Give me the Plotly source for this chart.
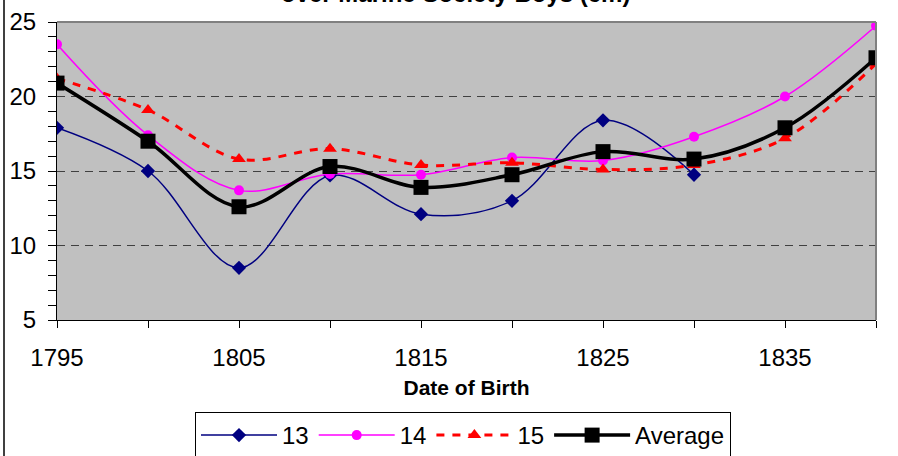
import plotly.graph_objects as go

years = [1795, 1800, 1805, 1810, 1815, 1820, 1825, 1830, 1835, 1840]
age13 = [17.9, 15.0, 8.5, 14.7, 12.1, 13.0, 18.4, 14.75]
age14 = [23.5, 17.4, 13.7, 14.8, 14.75, 15.9, 15.7, 17.3, 20.0, 24.75]
age15 = [21.2, 19.1, 15.8, 16.5, 15.4, 15.55, 15.1, 15.4, 17.2, 22.2]
average = [20.9, 17.0, 12.6, 15.3, 13.9, 14.75, 16.3, 15.8, 17.9, 22.6]

x_tickvals = [1795, 1800, 1805, 1810, 1815, 1820, 1825, 1830, 1835, 1840]
x_ticktext = ["1795", "", "1805", "", "1815", "", "1825", "", "1835", ""]
y_tickvals = [5, 10, 15, 20, 25]

FONT = "Arial, Liberation Sans, sans-serif"
W, H = 898, 456
L, R, T, B = 57, 22, 22, 136
PW, PH = W - L - R, H - T - B

fig = go.Figure()
fig.add_trace(go.Scatter(x=years[:len(age13)], y=age13, name="13", mode="lines+markers",
                         line=dict(color="#000080", width=1.5, shape="spline", smoothing=1),
                         marker=dict(symbol="diamond", size=11, color="#000080")))
fig.add_trace(go.Scatter(x=years, y=age14, name="14", mode="lines+markers",
                         line=dict(color="#FF00FF", width=1.5, shape="spline", smoothing=1),
                         marker=dict(symbol="circle", size=10, color="#FF00FF")))
fig.add_trace(go.Scatter(x=years, y=age15, name="15", mode="lines+markers",
                         line=dict(color="#FF0000", width=3, dash="8px,8px", shape="spline", smoothing=1),
                         marker=dict(symbol="triangle-up", size=12, color="#FF0000")))
fig.add_trace(go.Scatter(x=years, y=average, name="Average", mode="lines+markers",
                         line=dict(color="#000000", width=3.5, shape="spline", smoothing=1),
                         marker=dict(symbol="square", size=15, color="#000000")))

fig.update_layout(
    width=W, height=H,
    margin=dict(l=L, r=R, t=T, b=B, autoexpand=False),
    paper_bgcolor="white",
    plot_bgcolor="#C0C0C0",
    font=dict(family=FONT, color="black", size=24),
    showlegend=True,
    legend=dict(orientation="h", xref="container", yref="container",
                x=195 / W, y=1 - 412 / H, xanchor="left", yanchor="top",
                bordercolor="black", borderwidth=1, bgcolor="white",
                font=dict(size=24, family=FONT), itemwidth=76, tracegroupgap=0),
    xaxis=dict(range=[1795, 1840], tickvals=x_tickvals, ticktext=x_ticktext,
               ticks="outside", ticklen=7, tickcolor="black", showline=True,
               linecolor="black", linewidth=1, showgrid=False, zeroline=False,
               tickfont=dict(size=24), ticklabelstandoff=9, automargin=False,
               title=dict(text="<b>Date of Birth</b>", font=dict(size=21), standoff=10)),
    yaxis=dict(range=[5, 25], tickvals=y_tickvals, ticks="outside", ticklen=8,
               tickcolor="black", showline=True, linecolor="black", linewidth=1,
               showgrid=True, gridcolor="#404040", griddash="8px,6px", gridwidth=1,
               zeroline=False, tickfont=dict(size=24), ticklabelstandoff=7, automargin=False,
               minor=dict(dtick=1, ticks="outside", ticklen=8, tickcolor="black", showgrid=False)),
)

# chart title (its upper part is cut off by the top edge, as in the original)
fig.add_annotation(text="<b>over Marine Society Boys (cm)</b>", xref="paper", yref="paper",
                   x=(455 - L) / PW, y=1 + (T - 9) / PH, xanchor="center", yanchor="bottom",
                   showarrow=False, font=dict(size=24, family=FONT, color="black"))

# gray top/right frame of plot area and outer chart border on the left
fig.add_shape(type="line", xref="paper", yref="paper", x0=0, x1=1, y0=1, y1=1,
              line=dict(color="#808080", width=2), layer="above")
fig.add_shape(type="line", xref="paper", yref="paper", x0=1, x1=1, y0=0, y1=1,
              line=dict(color="#808080", width=2), layer="above")
fig.add_shape(type="line", xref="paper", yref="paper",
              x0=(4 - L) / PW, x1=(4 - L) / PW, y0=-2, y1=2,
              line=dict(color="black", width=1.5), layer="above")

fig.write_html("out.html", config={"displayModeBar": False},
               post_script="document.body.style.margin='0';")
